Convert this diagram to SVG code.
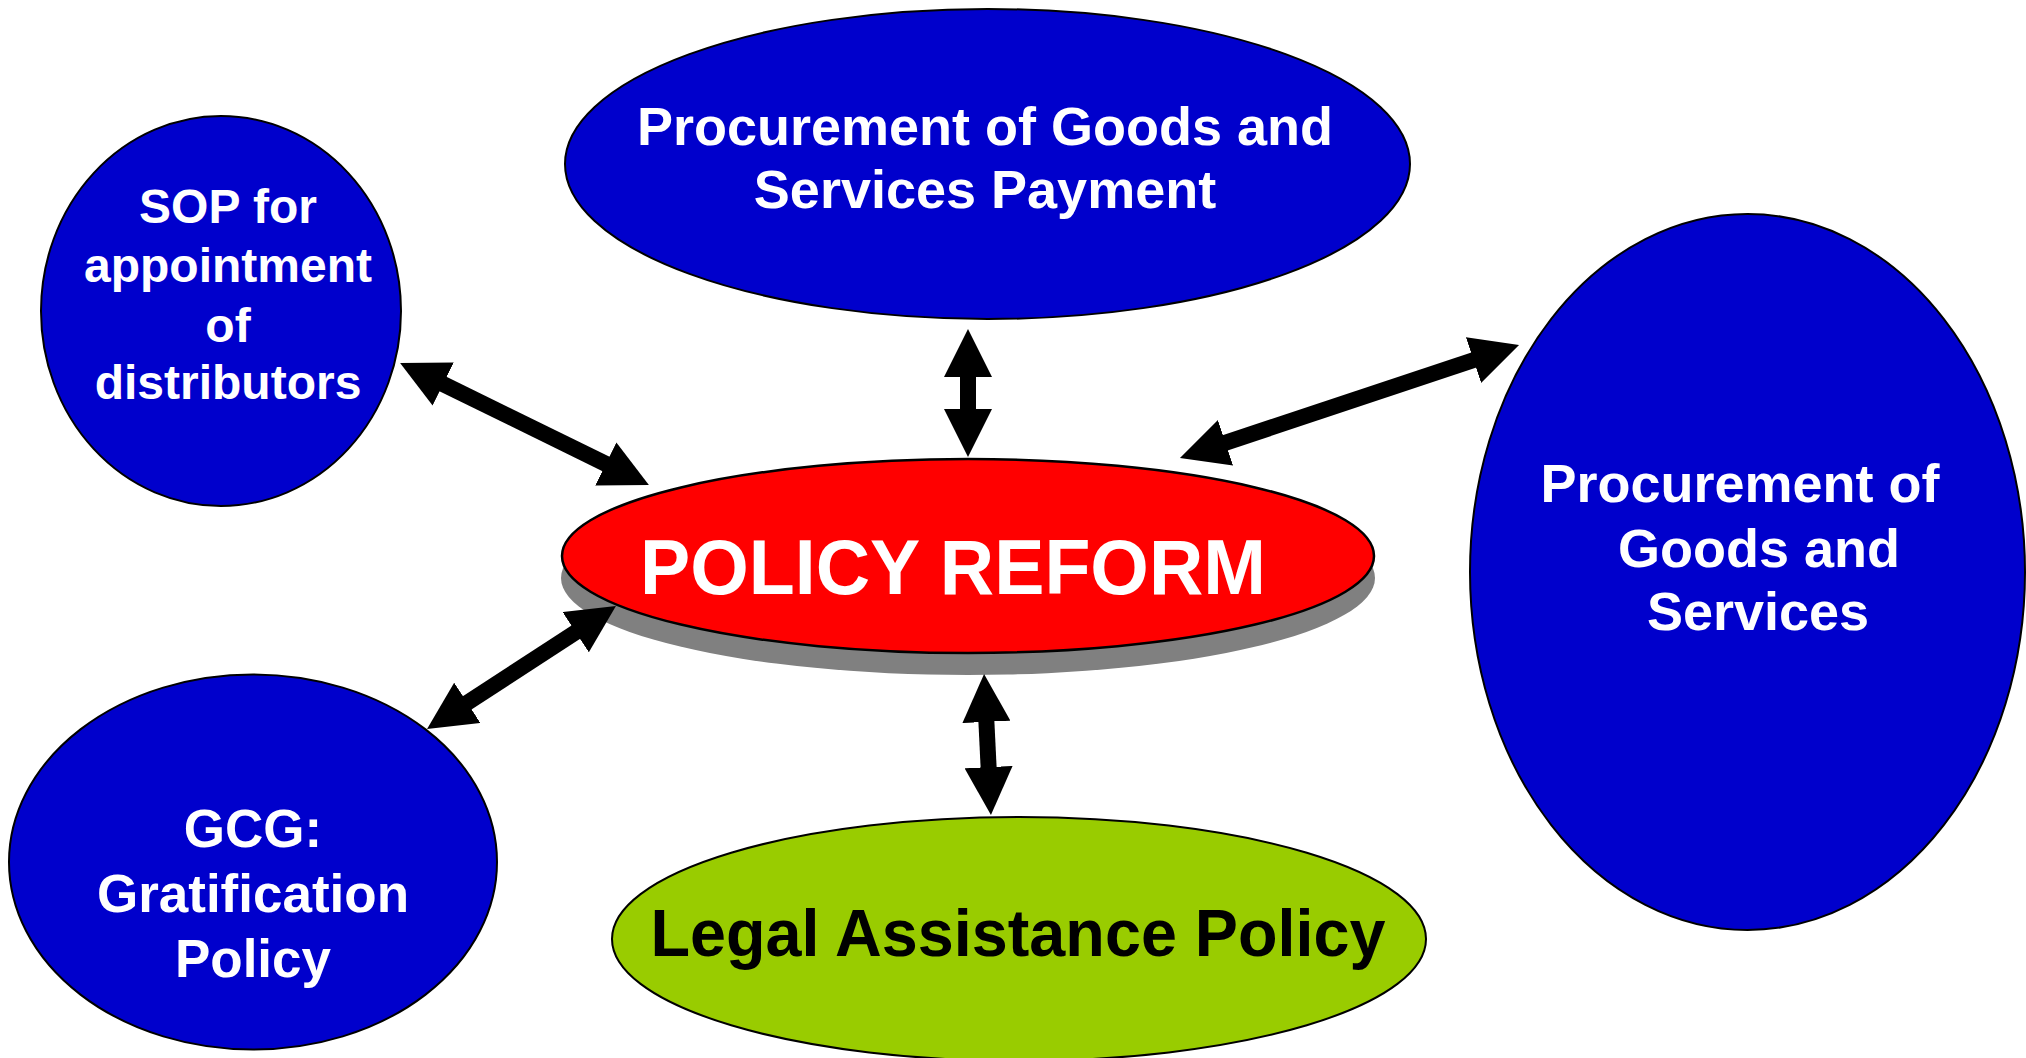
<svg xmlns="http://www.w3.org/2000/svg" width="2026" height="1058" viewBox="0 0 2026 1058">
  <style>
    .blue { fill: #0000CC; stroke: #000000; stroke-width: 2; }
    .red { fill: #FF0000; stroke: #000000; stroke-width: 2.5; }
    .green { fill: #99CC00; stroke: #000000; stroke-width: 2; }
    .shadow { fill: #808080; }
    .wt { fill: #FFFFFF; font-family: "Liberation Sans", Arial, sans-serif; font-weight: bold; text-anchor: middle; }
    .bt { fill: #000000; font-family: "Liberation Sans", Arial, sans-serif; font-weight: bold; text-anchor: middle; }
    .conn { stroke: #000000; stroke-width: 16; fill: none; marker-start: url(#head); marker-end: url(#head); }
  </style>
  <defs>
    <marker id="head" markerUnits="userSpaceOnUse" markerWidth="48" markerHeight="48" viewBox="0 0 48 48" refX="2" refY="24" orient="auto-start-reverse">
      <path d="M0,0 L48,24 L0,48 Z" fill="#000000"/>
    </marker>
  </defs>
  <rect x="0" y="0" width="2026" height="1058" fill="#FFFFFF"/>

  <g id="node-payment">
    <ellipse class="blue" cx="987.5" cy="164" rx="422.5" ry="155"/>
    <text class="wt" x="985" y="145" font-size="54">Procurement of Goods and</text>
    <text class="wt" x="985" y="208" font-size="54">Services Payment</text>
  </g>

  <g id="node-sop">
    <ellipse class="blue" cx="221" cy="311" rx="180" ry="195"/>
    <text class="wt" x="228" y="223" font-size="48">SOP for</text>
    <text class="wt" x="228" y="282" font-size="48">appointment</text>
    <text class="wt" x="228" y="342" font-size="48">of</text>
    <text class="wt" x="228" y="399" font-size="48">distributors</text>
  </g>

  <g id="node-procurement">
    <ellipse class="blue" cx="1747.5" cy="572" rx="277.5" ry="358"/>
    <text class="wt" x="1740" y="502" font-size="54">Procurement of</text>
    <text class="wt" x="1759" y="567" font-size="54">Goods and</text>
    <text class="wt" x="1758" y="630" font-size="54">Services</text>
  </g>

  <g id="node-gcg">
    <ellipse class="blue" cx="253" cy="862" rx="244" ry="187.5"/>
    <text class="wt" x="253" y="847" font-size="53">GCG:</text>
    <text class="wt" x="253" y="912" font-size="53">Gratification</text>
    <text class="wt" x="253" y="977" font-size="53">Policy</text>
  </g>

  <g id="node-legal">
    <ellipse class="green" cx="1019" cy="939" rx="407" ry="122"/>
    <text class="bt" x="1018" y="956" font-size="66" textLength="735" lengthAdjust="spacingAndGlyphs">Legal Assistance Policy</text>
  </g>

  <g id="node-policy-reform">
    <ellipse class="shadow" cx="968" cy="578" rx="407" ry="97"/>
    <ellipse class="red" cx="968" cy="556" rx="406" ry="97"/>
    <text class="wt" x="953" y="594" font-size="78" textLength="626" lengthAdjust="spacingAndGlyphs">POLICY REFORM</text>
  </g>

  <g id="connectors">
    <line class="conn" x1="441.4" y1="383.2" x2="607.6" y2="464.8"/>
    <line class="conn" x1="968" y1="375" x2="968" y2="411"/>
    <line class="conn" x1="1475.4" y1="359.5" x2="1223.6" y2="443.4"/>
    <line class="conn" x1="577.4" y1="631.1" x2="465.6" y2="703.9"/>
    <line class="conn" x1="986.3" y1="719.9" x2="988.7" y2="769.1"/>
  </g>
</svg>
